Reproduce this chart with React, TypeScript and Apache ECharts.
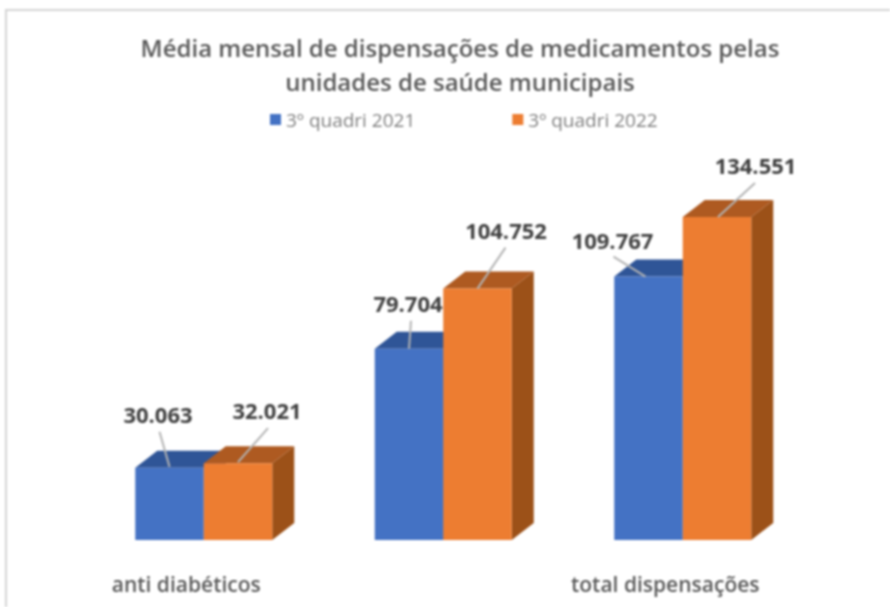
import React, { useEffect, useRef } from "react";
import * as echarts from "echarts";

const titleText = "Média mensal de dispensações de medicamentos pelas\nunidades de saúde municipais";
const categories = ["anti diabéticos", "anti hipertensivos", "total dispensações"];
const seriesNames = ["3º quadri 2021", "3º quadri 2022"];
const values2021 = [30063, 79704, 109767];
const values2022 = [32021, 104752, 134551];

const FONT = "'Open Sans', 'Noto Sans', sans-serif";
const BAR_RATIO = 68.5 / 239.5;
const DEPTH_X = 22;
const DEPTH_Y = 17;

// leader and label offsets from each bar's front top centre: [endX, endY, startX, startY, labelX, labelY]
const leaders2021 = [
  [0, -1, -10, -36, -11.5, -54],
  [0, 0, 2, -28, -1, -46],
  [-3, 0, -35, -20, -36, -37],
];
const leaders2022 = [
  [0, -1, 30, -35, 29, -53],
  [0, 0, 28, -41, 28.5, -59],
  [1, 0, 38, -34, 38.5, -52],
];

const fmt = (v: number) => String(v).replace(/\B(?=(\d{3})+$)/g, ".");

function makeSeries(
  name: string,
  values: number[],
  side: number,
  front: string,
  top: string,
  right: string,
  leaders: number[][]
) {
  return {
    type: "custom",
    name,
    itemStyle: { color: front },
    clip: false,
    silent: true,
    encode: { x: 0, y: 1 },
    data: values.map((v, i) => [i, v]),
    renderItem: (params: any, api: any) => {
      const i = api.value(0);
      const v = api.value(1);
      const [cx, yTop] = api.coord([i, v]);
      const [, yBase] = api.coord([i, 0]);
      const w = api.size([1, 0])[0] * BAR_RATIO;
      const x0 = side < 0 ? cx - w : cx;
      const x1 = x0 + w;
      const L = leaders[params.dataIndex];
      const mid = (x0 + x1) / 2;
      return {
        type: "group",
        children: [
          {
            type: "polygon",
            shape: { points: [[x1, yTop], [x1 + DEPTH_X, yTop - DEPTH_Y], [x1 + DEPTH_X, yBase - DEPTH_Y], [x1, yBase]] },
            style: { fill: right },
          },
          {
            type: "polygon",
            shape: { points: [[x0, yTop], [x0 + DEPTH_X, yTop - DEPTH_Y], [x1 + DEPTH_X, yTop - DEPTH_Y], [x1, yTop]] },
            style: { fill: top },
          },
          { type: "rect", shape: { x: x0, y: yTop, width: w, height: yBase - yTop }, style: { fill: front } },
          {
            type: "line",
            shape: { x1: mid + L[0], y1: yTop + L[1], x2: mid + L[2], y2: yTop + L[3] },
            style: { stroke: "#b3b3b3", lineWidth: 2 },
          },
          {
            type: "text",
            style: {
              text: fmt(v),
              x: mid + L[4],
              y: yTop + L[5],
              align: "center",
              verticalAlign: "middle",
              fontFamily: FONT,
              fontSize: 22,
              fontWeight: 700,
              fill: "#404040",
            },
          },
        ],
      };
    },
  };
}

export default function App() {
  const ref = useRef<HTMLDivElement>(null);
  useEffect(() => {
    const chart = echarts.init(ref.current!, undefined, { renderer: "svg" });
    chart.setOption({
      animation: false,
      backgroundColor: "#ffffff",
      title: {
        text: titleText,
        left: 455,
        top: 25,
        textAlign: "center",
        textStyle: { fontFamily: FONT, fontSize: 24, fontWeight: 600, color: "#595959", lineHeight: 34 },
      },
      legend: {
        left: 265,
        top: 105,
        icon: "rect",
        itemWidth: 11,
        itemHeight: 11,
        itemGap: 97,
        selectedMode: false,
        data: seriesNames,
        textStyle: { fontFamily: FONT, fontSize: 19, color: "#7f7f7f" },
      },
      grid: { left: 84, top: 60, width: 718.5, height: 480 },
      xAxis: {
        type: "category",
        data: categories,
        axisLine: { show: false },
        axisTick: { show: false },
        axisLabel: {
          margin: 33,
          fontFamily: FONT,
          fontSize: 21,
          fontWeight: 600,
          color: "#595959",
          padding: [0, 35, 0, 0],
        },
      },
      yAxis: { type: "value", min: 0, max: 200000, show: false },
      graphic: [
        {
          type: "rect",
          silent: true,
          z: -1,
          shape: { x: 6, y: 10, width: 1000, height: 1000 },
          style: { fill: "none", stroke: "#d4d4d4", lineWidth: 2 },
        },
      ],
      series: [
        makeSeries(seriesNames[0], values2021, -1, "#4472C4", "#2F5597", "#2F5597", leaders2021),
        makeSeries(seriesNames[1], values2022, 1, "#ED7D31", "#AE5A21", "#9C5118", leaders2022),
      ],
    });
    return () => chart.dispose();
  }, []);
  return (
    <div
      ref={ref}
      style={{ position: "absolute", left: 0, top: 0, width: 890, height: 607, filter: "blur(0.8px)" }}
    />
  );
}
